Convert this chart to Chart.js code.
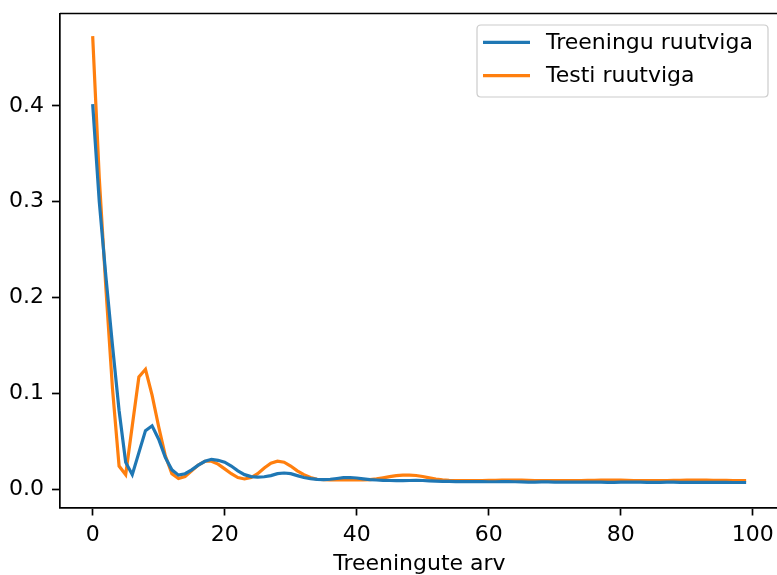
<!DOCTYPE html>
<html>
<head>
<meta charset="utf-8">
<script src="https://cdn.jsdelivr.net/npm/chart.js@4.4.1/dist/chart.umd.min.js"></script>
<style>
  html, body { margin: 0; padding: 0; background: #fff; overflow: hidden; width: 777px; height: 575px; }
  #wrap { width: 777px; height: 575px; overflow: hidden; position: relative; }
  canvas { display: block; }
</style>
</head>
<body>
<div id="wrap"><canvas id="c" width="800" height="575" style="width:800px;height:575px"></canvas></div>
<script>
const epochs = [0,1,2,3,4,5,6,7,8,9,10,11,12,13,14,15,16,17,18,19,20,21,22,23,24,25,26,27,28,29,30,31,32,33,34,35,36,37,38,39,40,41,42,43,44,45,46,47,48,49,50,51,52,53,54,55,56,57,58,59,60,61,62,63,64,65,66,67,68,69,70,71,72,73,74,75,76,77,78,79,80,81,82,83,84,85,86,87,88,89,90,91,92,93,94,95,96,97,98,99];

const trainError = [
  0.402, 0.300, 0.222, 0.150, 0.082, 0.028, 0.015, 0.038, 0.061, 0.066,
  0.052, 0.033, 0.020, 0.0145, 0.016, 0.020, 0.025, 0.029, 0.031, 0.030,
  0.028, 0.024, 0.019, 0.015, 0.013, 0.0125, 0.0128, 0.014, 0.016, 0.0167,
  0.016, 0.014, 0.012, 0.0108, 0.0100, 0.0098, 0.0102, 0.0110, 0.0118, 0.0120,
  0.0115, 0.0106, 0.0098, 0.0094, 0.0091, 0.0089, 0.0088, 0.0088, 0.0089, 0.0090,
  0.0089, 0.0086, 0.0083, 0.0080, 0.0079, 0.0078, 0.0077, 0.0077, 0.0078, 0.0077,
  0.0076, 0.0076, 0.0077, 0.0077, 0.0076, 0.0074, 0.0071, 0.0072, 0.0074, 0.0074,
  0.0073, 0.0073, 0.0072, 0.0072, 0.0073, 0.0073, 0.0072, 0.0071, 0.0069, 0.0069,
  0.0071, 0.0072, 0.0072, 0.0071, 0.0070, 0.0069, 0.0070, 0.0071, 0.0071, 0.0070,
  0.0070, 0.0069, 0.0069, 0.0070, 0.0070, 0.0069, 0.0069, 0.0068, 0.0068, 0.0068
];

const testError = [
  0.473, 0.325, 0.210, 0.105, 0.024, 0.015, 0.066, 0.117, 0.125, 0.098,
  0.065, 0.035, 0.016, 0.011, 0.013, 0.019, 0.025, 0.029, 0.029, 0.026,
  0.021, 0.016, 0.012, 0.0105, 0.012, 0.016, 0.022, 0.027, 0.029, 0.028,
  0.024, 0.019, 0.015, 0.012, 0.0102, 0.0097, 0.0095, 0.0094, 0.0094, 0.0094,
  0.0095, 0.0096, 0.0099, 0.0106, 0.0117, 0.0129, 0.0139, 0.0145, 0.0146, 0.0141,
  0.0131, 0.0117, 0.0103, 0.0095, 0.0091, 0.0089, 0.0088, 0.0088, 0.0088, 0.0089,
  0.0090, 0.0091, 0.0092, 0.0093, 0.0093, 0.0092, 0.0090, 0.0089, 0.0088, 0.0088,
  0.0087, 0.0087, 0.0087, 0.0088, 0.0089, 0.0090, 0.0091, 0.0092, 0.0093, 0.0093,
  0.0092, 0.0090, 0.0089, 0.0088, 0.0088, 0.0088, 0.0088, 0.0089, 0.0090, 0.0091,
  0.0092, 0.0093, 0.0093, 0.0092, 0.0091, 0.0090, 0.0090, 0.0089, 0.0089, 0.0089
];

const seriesLabels = ['Treeningu ruutviga', 'Testi ruutviga'];
const xTicks = [0, 20, 40, 60, 80, 100];
const yTicks = [0.0, 0.1, 0.2, 0.3, 0.4];
const xTitle = 'Treeningute arv';

const FONT = "'DejaVu Sans', sans-serif";
const FS = 22;

const frameAndLegend = {
  id: 'frameAndLegend',
  afterDraw(chart) {
    const ctx = chart.ctx;
    const a = chart.chartArea;
    ctx.save();
    ctx.strokeStyle = '#000';
    ctx.lineWidth = 1.7;
    ctx.beginPath();
    ctx.moveTo(a.left, a.top);
    ctx.lineTo(a.right, a.top);
    ctx.lineTo(a.right, a.bottom);
    ctx.stroke();

    const lx = 477, ly = 25, lw = 291, lh = 72, r = 4;
    ctx.beginPath();
    ctx.moveTo(lx + r, ly);
    ctx.lineTo(lx + lw - r, ly);
    ctx.quadraticCurveTo(lx + lw, ly, lx + lw, ly + r);
    ctx.lineTo(lx + lw, ly + lh - r);
    ctx.quadraticCurveTo(lx + lw, ly + lh, lx + lw - r, ly + lh);
    ctx.lineTo(lx + r, ly + lh);
    ctx.quadraticCurveTo(lx, ly + lh, lx, ly + lh - r);
    ctx.lineTo(lx, ly + r);
    ctx.quadraticCurveTo(lx, ly, lx + r, ly);
    ctx.closePath();
    ctx.fillStyle = 'rgba(255,255,255,0.8)';
    ctx.fill();
    ctx.strokeStyle = '#cccccc';
    ctx.lineWidth = 1.2;
    ctx.stroke();

    const rows = [42.3, 75.7];
    chart.data.datasets.forEach((ds, i) => {
      const y = rows[i];
      ctx.strokeStyle = ds.borderColor;
      ctx.lineWidth = 3.2;
      ctx.beginPath();
      ctx.moveTo(483, y);
      ctx.lineTo(530, y);
      ctx.stroke();
      ctx.fillStyle = '#000';
      ctx.font = FS + 'px ' + FONT;
      ctx.textBaseline = 'middle';
      ctx.textAlign = 'left';
      ctx.fillText(ds.label, 546, y + 1);
    });
    ctx.restore();
  }
};

const ctx = document.getElementById('c').getContext('2d');
new Chart(ctx, {
  type: 'line',
  data: {
    datasets: [
      {
        label: seriesLabels[0],
        data: epochs.map((e, i) => ({ x: e, y: trainError[i] })),
        borderColor: '#1f77b4',
        backgroundColor: '#1f77b4',
        borderWidth: 3.2,
        pointRadius: 0,
        tension: 0,
        fill: false
      },
      {
        label: seriesLabels[1],
        data: epochs.map((e, i) => ({ x: e, y: testError[i] })),
        borderColor: '#ff7f0e',
        backgroundColor: '#ff7f0e',
        borderWidth: 3.2,
        pointRadius: 0,
        tension: 0,
        fill: false
      }
    ]
  },
  options: {
    responsive: false,
    animation: false,
    devicePixelRatio: 1,
    layout: { padding: { top: 13.5, right: 21.2, left: 0, bottom: 0 } },
    plugins: {
      legend: { display: false },
      tooltip: { enabled: false }
    },
    scales: {
      x: {
        type: 'linear',
        min: -4.95,
        max: 103.95,
        afterBuildTicks: (s) => { s.ticks = xTicks.map(v => ({ value: v })); },
        afterFit: (s) => { s.height = 67.5; s.paddingLeft = 0; s.paddingRight = 0; },
        ticks: {
          color: '#000',
          font: { family: FONT, size: FS },
          padding: 7,
          maxRotation: 0,
          autoSkip: false,
          callback: (v) => String(v)
        },
        grid: {
          display: true,
          drawOnChartArea: false,
          drawTicks: true,
          tickLength: 8,
          tickWidth: 1.7,
          tickColor: '#000'
        },
        border: { display: true, color: '#000', width: 1.7 },
        title: {
          display: true,
          text: xTitle,
          color: '#000',
          font: { family: FONT, size: FS },
          padding: { top: 0, bottom: -2 }
        }
      },
      y: {
        type: 'linear',
        min: -0.0193,
        max: 0.4966,
        afterBuildTicks: (s) => { s.ticks = yTicks.map(v => ({ value: v })); },
        afterFit: (s) => { s.width = 60; s.paddingTop = 0; s.paddingBottom = 0; },
        ticks: {
          color: '#000',
          font: { family: FONT, size: FS },
          padding: 8,
          autoSkip: false,
          callback: (v) => v.toFixed(1)
        },
        grid: {
          display: true,
          drawOnChartArea: false,
          drawTicks: true,
          tickLength: 8,
          tickWidth: 1.7,
          tickColor: '#000'
        },
        border: { display: true, color: '#000', width: 1.7 }
      }
    }
  },
  plugins: [frameAndLegend]
});
</script>
</body>
</html>
